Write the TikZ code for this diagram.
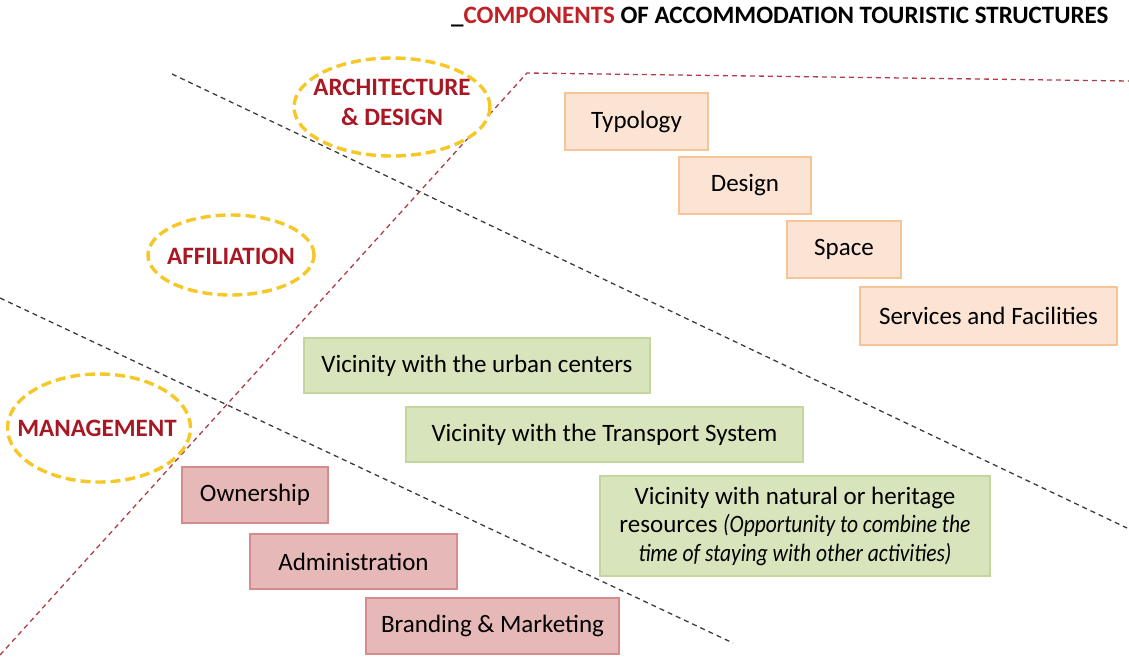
\documentclass[tikz,border=0pt]{standalone}
\usepackage{fontspec}
\setmainfont{Carlito}
\newfontfamily\slimfont{Carlito}[FakeStretch=0.86]
\usepackage{tikz}
\usetikzlibrary{positioning,shapes.geometric}
\definecolor{titlered}{RGB}{192,32,38}
\definecolor{labelred}{RGB}{168,24,36}
\definecolor{ringyellow}{RGB}{245,200,40}
\definecolor{peachfill}{RGB}{252,228,212}
\definecolor{peachline}{RGB}{246,196,150}
\definecolor{greenfill}{RGB}{216,228,188}
\definecolor{greenline}{RGB}{196,214,155}
\definecolor{rosefill}{RGB}{230,184,183}
\definecolor{roseline}{RGB}{214,140,140}
\definecolor{divred}{RGB}{176,60,70}
\definecolor{divgrey}{RGB}{60,60,60}
\newcommand{\slimit}[1]{{\slimfont\itshape #1}}

\begin{document}
\begin{tikzpicture}[x=1pt,y=-1pt,
    ring/.style={ellipse,draw=ringyellow,line width=3.4pt,dash pattern=on 10pt off 5pt,fill=white,inner sep=0pt},
    ringtext/.style={text=labelred,font=\fontsize{25}{30}\selectfont\bfseries,align=center,inner sep=0pt},
    archbox/.style={rectangle,draw=peachline,fill=peachfill,line width=2.5pt,font=\fontsize{25}{28}\selectfont},
    placebox/.style={rectangle,draw=greenline,fill=greenfill,line width=2.5pt,font=\fontsize{25}{28.5}\selectfont,align=center},
    runbox/.style={rectangle,draw=roseline,fill=rosefill,line width=2.5pt,font=\fontsize{25}{28}\selectfont},
    divider/.style={line width=1.3pt,dash pattern=on 5pt off 4pt}]
    \useasboundingbox (0,0) rectangle (1129,662);
    % dividing lines
    \coordinate (rl) at (0,655);
    \coordinate (rk) at (527,73);
    \coordinate (rr) at (1129,81);
    \coordinate (ba) at (172,74);
    \coordinate (bb) at (1127,528);
    \coordinate (ca) at (0,298);
    \coordinate (cb) at (733,643);
    \draw[divider,divgrey] (ba) -- (bb);
    \draw[divider,divgrey] (ca) -- (cb);
    \draw[divider,divred] (rl) -- (rk) -- (rr);
    % title
    \node[anchor=west,font=\fontsize{25}{28}\selectfont\bfseries,inner sep=0pt] (title) at (451,17)
        {\_\textcolor{titlered}{COMPONENTS} OF ACCOMMODATION TOURISTIC STRUCTURES};
    % groups
    \node[ring,minimum width=196pt,minimum height=98pt] (arch) at (392,107) {};
    \node[ringtext] (archlbl) at (392,102) {ARCHITECTURE\\\& DESIGN};
    \node[ring,minimum width=166pt,minimum height=80pt] (affil) at (231,255) {};
    \node[ringtext] (affillbl) at (231,256) {AFFILIATION};
    \node[ring,minimum width=183pt,minimum height=108pt] (manage) at (99,428) {};
    \node[ringtext] (managelbl) at (97,428) {MANAGEMENT};
    % architecture and design
    \node[archbox,minimum width=143pt,minimum height=57pt] (typo) at (636.5,121.5) {Typology};
    \node[archbox,minimum width=132pt,minimum height=57pt] (design) at (745,185.5) {Design};
    \node[archbox,minimum width=114pt,minimum height=57pt] (space) at (844,249.5) {Space};
    \node[archbox,minimum width=257pt,minimum height=58pt] (serv) at (988.5,316) {Services and Facilities};
    % affiliation
    \node[placebox,minimum width=346pt,minimum height=55pt] (urban) at (477,365.5) {Vicinity with the urban centers};
    \node[placebox,minimum width=397pt,minimum height=55pt] (transport) at (604.5,434.5) {Vicinity with the Transport System};
    \node[placebox,minimum width=390pt,minimum height=100pt] (natural) at (795,526)
        {Vicinity with natural or heritage\\resources \slimit{(Opportunity to combine the}\\\slimit{time of staying with other activities)}};
    % management
    \node[runbox,minimum width=146pt,minimum height=56pt] (owner) at (255,495) {Ownership};
    \node[runbox,minimum width=207pt,minimum height=55pt] (admin) at (353.5,561.5) {Administration};
    \node[runbox,minimum width=253pt,minimum height=56pt] (brand) at (492.5,626) {Branding \& Marketing};
\end{tikzpicture}
\end{document}
